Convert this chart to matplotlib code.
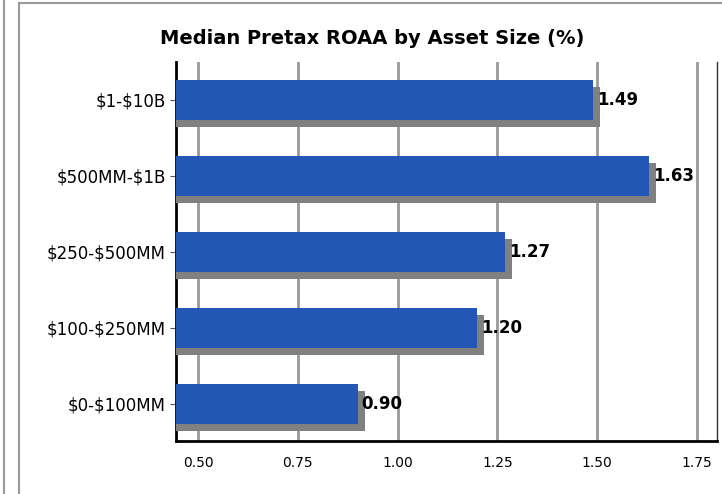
import matplotlib
matplotlib.use('Agg')
from matplotlib import pyplot as plt
from matplotlib import patheffects as pe
from matplotlib.lines import Line2D

categories = ['$1-$10B', '$500MM-$1B', '$250-$500MM', '$100-$250MM', '$0-$100MM']
roaa = [1.49, 1.63, 1.27, 1.20, 0.90]
xticks = [0.50, 0.75, 1.00, 1.25, 1.50, 1.75]

plt.rcParams['font.family'] = ['DejaVu Sans']

fig = plt.figure(figsize=(7.22, 4.94), dpi=100)
ax = fig.add_axes([0.2438, 0.1073, 0.7492, 0.7672])

labels = [c.replace('$', r'\$') for c in categories]
ypos = list(range(len(categories)))[::-1]

bars = ax.barh(ypos, roaa, height=0.53, color='#2257B5', zorder=3)
for b in bars:
    b.set_path_effects([pe.SimplePatchShadow(offset=(5, -5), shadow_rgbFace='#808080', alpha=1.0),
                        pe.Normal()])

for y, v in zip(ypos, roaa):
    ax.text(v + 0.01, y, f'{v:.2f}', va='center', ha='left',
            fontsize=12, fontweight='bold', color='black', zorder=4)

ax.set_xlim(0.445, 1.80)
ax.set_ylim(-0.49, 4.5)
ax.set_xticks(xticks)
ax.set_xticklabels([f'{t:.2f}' for t in xticks], fontsize=10)
ax.set_yticks(ypos)
ax.set_yticklabels(labels, fontsize=12)
ax.tick_params(axis='y', length=4, color='#555555')
ax.tick_params(axis='x', length=0, pad=11)

ax.grid(axis='x', color='#999999', linewidth=2, zorder=0)
ax.set_axisbelow(True)

ax.spines['top'].set_visible(False)
ax.spines['left'].set_linewidth(2)
ax.spines['bottom'].set_linewidth(2)
ax.spines['right'].set_linewidth(1)
ax.spines['right'].set_color('#333333')

fig.text(0.515, 0.923, 'Median Pretax ROAA by Asset Size (%)', ha='center', va='center',
         fontsize=14, fontweight='bold')

# surrounding frame lines
fig.add_artist(Line2D([0.006, 0.006], [0, 1], transform=fig.transFigure, color='#999999', lw=1.5))
fig.add_artist(Line2D([0.026, 0.026], [0, 0.994], transform=fig.transFigure, color='#999999', lw=1.5))
fig.add_artist(Line2D([0.026, 1], [0.994, 0.994], transform=fig.transFigure, color='#999999', lw=1.5))

fig.savefig('out.png', dpi=100)
